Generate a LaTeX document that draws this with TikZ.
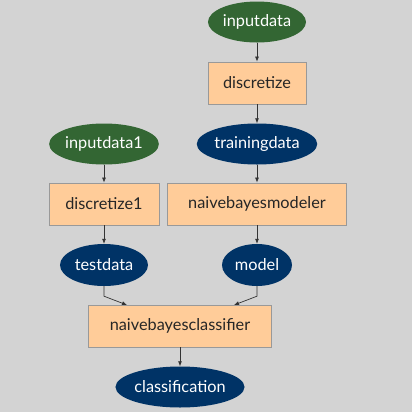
\documentclass[tikz,border=0pt]{standalone}
\usepackage{fontspec}
\setmainfont{Lato}
\usetikzlibrary{shapes.geometric,arrows.meta,calc}
\definecolor{bg}{HTML}{D3D3D3}
\definecolor{ingreen}{HTML}{336633}
\definecolor{datablue}{HTML}{003366}
\definecolor{boxfill}{HTML}{FFCC99}
\definecolor{boxline}{HTML}{999999}
\definecolor{edgecol}{HTML}{333333}
\tikzset{
  lbl/.style={font=\fontsize{16.3bp}{18bp}\selectfont},
  inpt/.style={lbl, ellipse, fill=ingreen, text=white, inner sep=0pt},
  dat/.style={lbl, ellipse, fill=datablue, text=white, inner sep=0pt},
  proc/.style={lbl, rectangle, fill=boxfill, draw=boxline, line width=0.8bp, inner sep=0pt, text=black!85},
  edge/.style={draw=edgecol, line width=0.7bp, -{Latex[length=5bp,width=4bp]}},
}
\begin{document}
\begin{tikzpicture}[x=1bp,y=-1bp]
\fill[bg] (0,0) rectangle (412,412);
\useasboundingbox (0,0) rectangle (412,412);
\node[inpt, minimum width=98bp, minimum height=41bp] (inputdata) at (257,22) {inputdata};
\node[proc, minimum width=98bp, minimum height=42bp] (discretize) at (257,83) {discretize};
\node[dat, minimum width=118bp, minimum height=41bp] (trainingdata) at (257,144) {trainingdata};
\node[inpt, minimum width=109bp, minimum height=41bp] (inputdata1) at (104,144) {inputdata1};
\node[proc, minimum width=110bp, minimum height=42bp] (discretize1) at (104,204) {discretize1};
\node[proc, minimum width=179bp, minimum height=42bp] (modeler) at (257,204) {naivebayesmodeler};
\node[dat, minimum width=88bp, minimum height=42bp] (testdata) at (104,265) {testdata};
\node[dat, minimum width=70bp, minimum height=42bp] (model) at (257,265) {model};
\node[proc, minimum width=183bp, minimum height=42bp] (classifier) at (180,326) {naivebayesclassifier};
\node[dat, minimum width=124bp, minimum height=41bp] (classification) at (180,387) {classification};
\coordinate (cin1) at (127,305);
\coordinate (cin2) at (234,305);
\draw[edge] (inputdata) -- (discretize);
\draw[edge] (discretize) -- (trainingdata);
\draw[edge] (trainingdata) -- (modeler);
\draw[edge] (inputdata1) -- (discretize1);
\draw[edge] (discretize1) -- (testdata);
\draw[edge] (modeler) -- (model);
\draw[edge] (testdata.south) -- ++(0,10) -- (cin1);
\draw[edge] (model.south) -- ++(0,10) -- (cin2);
\draw[edge] (classifier) -- (classification);
\end{tikzpicture}
\end{document}
